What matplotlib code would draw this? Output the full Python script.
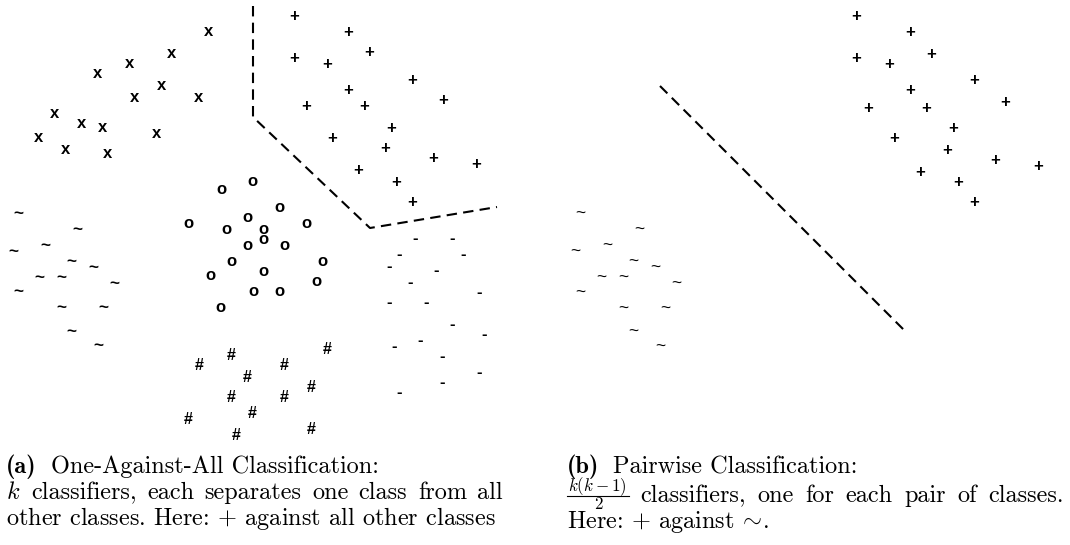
import matplotlib
matplotlib.use("Agg")
import matplotlib.pyplot as plt
from matplotlib.lines import Line2D

plt.rcParams['mathtext.fontset'] = 'cm'

# class samples in panel pixel coords (x right, y down)
cross_x = [209, 172, 130, 98, 162, 135, 199, 55, 82, 103, 39, 157, 66, 108]
cross_y = [32, 53, 64, 74, 86, 97, 97, 113, 123, 128, 138, 133, 149, 154]

plus_x = [294, 348, 294, 327, 369, 412, 348, 306, 364, 443, 391, 332, 385, 433, 476, 358, 396, 412]
plus_y = [16, 32, 58, 64, 53, 80, 90, 107, 107, 101, 128, 138, 149, 159, 165, 171, 182, 202]

circ_x = [252, 221, 279, 188, 247, 226, 263, 306, 263, 247, 284, 231, 322, 263, 210, 316, 253, 279, 220]
circ_y = [181, 189, 207, 223, 218, 229, 229, 223, 239, 245, 245, 261, 261, 271, 276, 282, 292, 292, 308]

tilde_x = [18, 77, 45, 13, 71, 93, 39, 61, 114, 18, 61, 103, 71, 98]
tilde_y = [213, 229, 245, 251, 261, 267, 277, 277, 283, 292, 308, 308, 331, 346]

dash_x = [415, 452, 399, 463, 389, 436, 410, 479, 389, 426, 452, 484, 420, 394, 442, 479, 442, 399]
dash_y = [239, 239, 255, 255, 266, 271, 282, 292, 303, 303, 324, 335, 340, 346, 356, 372, 383, 393]

hash_x = [231, 199, 284, 327, 247, 311, 231, 284, 252, 188, 236, 311]
hash_y = [355, 366, 366, 350, 377, 387, 398, 398, 414, 419, 435, 430]

# decision boundaries
ova_x = [253, 253, 370, 497]
ova_y = [6, 117, 228, 207]
pair_x = [98, 343]
pair_y = [85, 330]

W, H = 1070, 545
fig = plt.figure(figsize=(W / 100, H / 100), dpi=100)

ax_a = fig.add_axes([0, 0, 520 / W, 1])
ax_b = fig.add_axes([562 / W, -1 / H, 508 / W, 1])
ax_a.set_xlim(0, 520)
ax_b.set_xlim(0, 508)
for ax in (ax_a, ax_b):
    ax.set_ylim(H, 0)
    ax.axis('off')

mark = dict(ha='center', va='center', fontsize=12, fontweight='bold',
            family='Liberation Sans', clip_on=False)


def draw_class(ax, xs, ys, sym, **kw):
    opts = dict(mark)
    opts.update(kw)
    for x, y in zip(xs, ys):
        ax.text(x, y, sym, **opts)


# (a) one against all
draw_class(ax_a, cross_x, cross_y, 'x')
draw_class(ax_a, plus_x, plus_y, '+')
draw_class(ax_a, circ_x, circ_y, 'o')
draw_class(ax_a, tilde_x, tilde_y, '~', fontsize=12.5)
draw_class(ax_a, dash_x, dash_y, '-')
draw_class(ax_a, hash_x, hash_y, '#', fontsize=11.5)
ax_a.plot(ova_x, ova_y, color='black', lw=1.5, dashes=(5, 3), clip_on=False)

# (b) pairwise
draw_class(ax_b, plus_x, plus_y, '+')
draw_class(ax_b, tilde_x, tilde_y, '~', fontsize=12.5, fontweight='normal')
ax_b.plot(pair_x, pair_y, color='black', lw=1.5, dashes=(5, 3), clip_on=False)

# captions, set like a justified LaTeX caption
fs = 17.5
rm = dict(family='cmr10', fontsize=fs, va='baseline', ha='left')
bf = dict(family='cmb10', fontsize=fs, va='baseline', ha='left')
renderer = fig.canvas.get_renderer()


def fy(y):
    return 1 - y / H


def text_w(t):
    return t.get_window_extent(renderer).width


def put_line(x0, y, parts, width=None, gap=8.0, lead=0.0):
    # lead: room kept at the start of the line for an inline piece
    texts = [fig.text(0, fy(y), s, **kw) for s, kw in parts]
    widths = [text_w(t) for t in texts]
    if width is not None:
        n_gaps = len(texts) - 1 + (1 if lead else 0)
        gap = (width - lead - sum(widths)) / n_gaps
    x = x0 + (lead + gap if lead else 0)
    for t, w in zip(texts, widths):
        t.set_x(x / W)
        x += w + gap


def words(line):
    return [(s, rm) for s in line.split(' ')]


def put_frac(x0, y, num, den):
    # text-style fraction: script-size parts around the math axis
    small = dict(rm, fontsize=fs * 0.7, ha='center')
    tn = fig.text(0, fy(y - 11), num, **small)
    td = fig.text(0, fy(y + 7), den, **small)
    w = max(text_w(tn), text_w(td)) + 3
    tn.set_x((x0 + w / 2) / W)
    td.set_x((x0 + w / 2) / W)
    fig.add_artist(Line2D([x0 / W, (x0 + w) / W], [fy(y - 6)] * 2,
                          color='black', lw=0.8, transform=fig.transFigure))
    return w


cap_w = 497

put_line(6, 473, [('(a)', bf), ('One-Against-All Classification:', rm)], gap=14)
put_line(6, 499, words(r'$k$ classifiers, each separates one class from all'), width=cap_w)
put_line(6, 525, [(r'other classes. Here: $+$ against all other classes', rm)])

put_line(567, 473, [('(b)', bf), ('Pairwise Classification:', rm)], gap=14)
fw = put_frac(567, 502, r'$k(k-1)$', '2')
put_line(567, 502, words('classifiers, one for each pair of classes.'), width=cap_w, lead=fw)
put_line(567, 528, [(r'Here: $+$ against $\!\sim\!$.', rm)])

fig.savefig('out.png', dpi=100)
